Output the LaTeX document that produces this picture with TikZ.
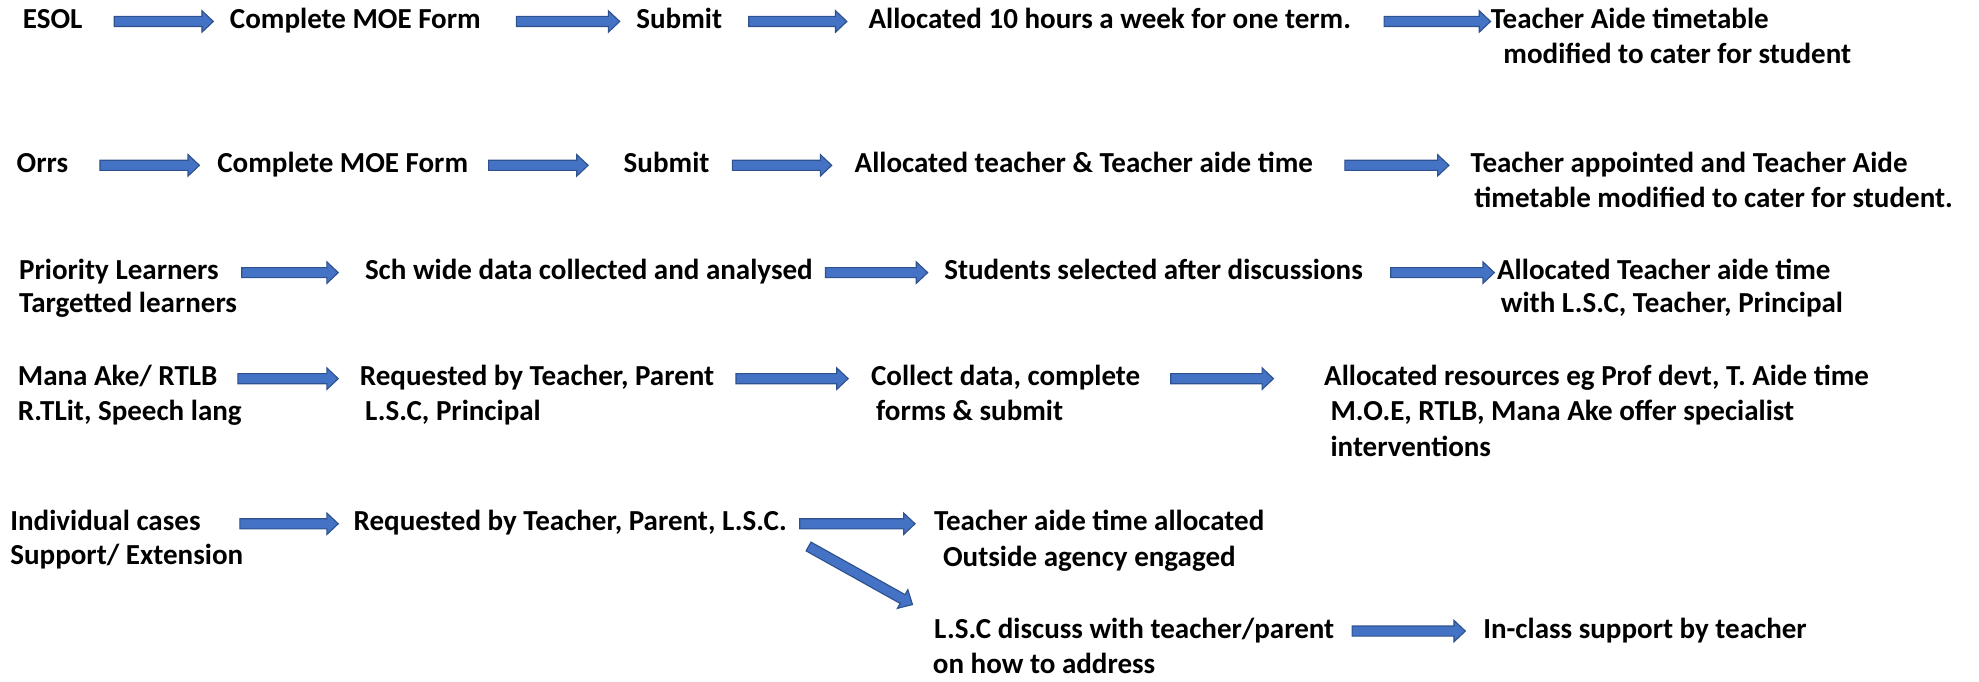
\documentclass[tikz,border=0pt]{standalone}
\usepackage{fontspec}
\setmainfont{Carlito}
\usetikzlibrary{calc}
\definecolor{ablue}{HTML}{4472C4}
\definecolor{adark}{HTML}{2F528F}
\tikzset{
 lbl/.style={anchor=west, inner sep=0pt, text height=16pt, text depth=5pt, font=\fontsize{23}{28}\selectfont\bfseries},
 barrowstyle/.style={draw=adark, fill=ablue, line width=0.9pt, line join=miter}
}
\newcommand\barr[2]{\path[barrowstyle] let \p1=(#1), \p2=(#2), \p3=($(\p2)!9pt!(\p1)$) in
 ($(\p1)!4pt!90:(\p2)$) -- ($(\p3)!4pt!90:(\p2)$) -- ($(\p3)!8.5pt!90:(\p2)$) -- (\p2) -- ($(\p3)!8.5pt!-90:(\p2)$) -- ($(\p3)!4pt!-90:(\p2)$) -- ($(\p1)!4pt!-90:(\p2)$) -- cycle;}
\begin{document}
\begin{tikzpicture}[x=1pt,y=-1pt]
\useasboundingbox (0,0) rectangle (1568,540);
% Row 1
\node[lbl] (esol) at (18,17) {ESOL};
\node[lbl] (moeA) at (182,17) {Complete MOE Form};
\node[lbl] (subA) at (504,17) {Submit};
\node[lbl] (allocA) at (688,17) {Allocated 10 hours a week for one term.};
\node[lbl] (taA) at (1181,17) {Teacher Aide timetable};
\node[lbl] (taAb) at (1191,45) {modified to cater for student};
\barr{$(esol.east)+(25,0)$}{$(moeA.west)+(-13,0)$}
\barr{$(moeA.east)+(28,0)$}{$(subA.west)+(-13,0)$}
\barr{$(subA.east)+(21,0)$}{$(allocA.west)+(-17,0)$}
\barr{$(allocA.east)+(26,0)$}{$(taA.west)+(0,0)$}
% Row 2
\node[lbl] (orrs) at (13,131) {Orrs};
\node[lbl] (moeB) at (172,131) {Complete MOE Form};
\node[lbl] (subB) at (494,131) {Submit};
\node[lbl] (allocB) at (677,131) {Allocated teacher \& Teacher aide time};
\node[lbl] (apptB) at (1165,131) {Teacher appointed and Teacher Aide};
\node[lbl] (apptBb) at (1168,159) {timetable modified to cater for student.};
\barr{$(orrs.east)+(25,0)$}{$(moeB.west)+(-14,0)$}
\barr{$(moeB.east)+(16,0)$}{$(subB.west)+(-28,0)$}
\barr{$(subB.east)+(18,0)$}{$(allocB.west)+(-18,0)$}
\barr{$(allocB.east)+(25,0)$}{$(apptB.west)+(-17,0)$}
% Row 3
\node[lbl] (prio) at (15,216) {Priority Learners};
\node[lbl] (prioB) at (15,242) {Targetted learners};
\node[lbl] (sch) at (289,216) {Sch wide data collected and analysed};
\node[lbl] (stud) at (748,216) {Students selected after discussions};
\node[lbl] (allocC) at (1186,216) {Allocated Teacher aide time};
\node[lbl] (allocCb) at (1189,242) {with L.S.C, Teacher, Principal};
\barr{$(prio.east)+(18,0)$}{$(sch.west)+(-21,0)$}
\barr{$(sch.east)+(10,0)$}{$(stud.west)+(-13,0)$}
\barr{$(stud.east)+(22,0)$}{$(allocC.west)+(-2,0)$}
% Row 4
\node[lbl] (mana) at (14,300) {Mana Ake/ RTLB};
\node[lbl] (manaB) at (14,328) {R.TLit, Speech lang};
\node[lbl] (reqD) at (285,300) {Requested by Teacher, Parent};
\node[lbl] (reqDb) at (289,328) {L.S.C, Principal};
\node[lbl] (coll) at (690,300) {Collect data, complete};
\node[lbl] (collB) at (694,328) {forms \& submit};
\node[lbl] (res) at (1049,300) {Allocated resources eg Prof devt, T. Aide time};
\node[lbl] (resB) at (1054,328) {M.O.E, RTLB, Mana Ake offer specialist};
\node[lbl] (resC) at (1054,356) {interventions};
\barr{$(mana.east)+(16,0)$}{$(reqD.west)+(-17,0)$}
\barr{$(reqD.east)+(17,0)$}{$(coll.west)+(-18,0)$}
\barr{$(coll.east)+(24,0)$}{$(res.west)+(-40,0)$}
% Row 5
\node[lbl] (ind) at (8,415) {Individual cases};
\node[lbl] (indB) at (8,442) {Support/ Extension};
\node[lbl] (reqE) at (280,415) {Requested by Teacher, Parent, L.S.C.};
\node[lbl] (tat) at (740,415) {Teacher aide time allocated};
\node[lbl] (tatB) at (747,443) {Outside agency engaged};
\node[lbl] (lsc) at (740,500) {L.S.C discuss with teacher/parent};
\node[lbl] (lscB) at (739,528) {on how to address};
\node[lbl] (incl) at (1175,500) {In-class support by teacher};
\barr{$(ind.east)+(31,0)$}{$(reqE.west)+(-12,0)$}
\barr{$(reqE.east)+(10,0)$}{$(tat.west)+(-15,0)$}
\barr{$(reqE.east)+(17,18)$}{$(lsc.west)+(-17,-21)$}
\barr{$(lsc.east)+(14,0)$}{$(incl.west)+(-14,0)$}
\end{tikzpicture}
\end{document}
